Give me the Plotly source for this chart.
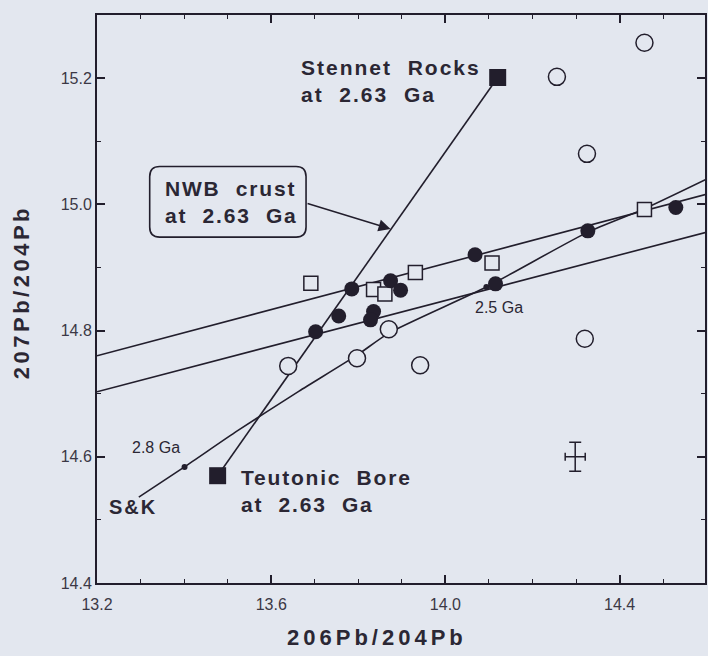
import plotly.graph_objects as go

# ---------------- data ----------------
filled_circle_x = [13.785, 13.874, 13.897, 13.755, 13.835, 13.828, 13.702, 14.068, 14.115, 14.327, 14.529]
filled_circle_y = [14.866, 14.879, 14.864, 14.823, 14.830, 14.817, 14.798, 14.920, 14.874, 14.958, 14.995]

open_circle_x = [14.256, 14.457, 14.325, 14.320, 13.942, 13.639, 13.797, 13.870]
open_circle_y = [15.202, 15.256, 15.080, 14.787, 14.745, 14.744, 14.756, 14.802]

open_square_x = [13.691, 13.835, 13.861, 13.931, 14.107, 14.457]
open_square_y = [14.875, 14.865, 14.858, 14.892, 14.907, 14.992]

endmember_names = ["Teutonic Bore", "Stennet Rocks"]
endmember_x = [13.477, 14.120]
endmember_y = [14.570, 15.201]

sk_x = [13.296, 13.401, 13.522, 13.664, 13.797, 13.870, 14.094, 14.327, 14.457, 14.597]
sk_y = [14.536, 14.584, 14.641, 14.704, 14.761, 14.796, 14.869, 14.956, 14.993, 15.039]

model_age_labels = ["2.8 Ga", "2.5 Ga"]
model_age_x = [13.401, 14.094]
model_age_y = [14.584, 14.869]

line_a_x = [13.2, 14.6]
line_a_y = [14.760, 15.016]
line_b_x = [13.2, 14.6]
line_b_y = [14.703, 14.956]

err_x = [14.298]
err_y = [14.600]
err_dx = [0.023]
err_dy = [0.023]

x_tick_vals = [13.2, 13.6, 14.0, 14.4]
x_tick_text = ["13.2", "13.6", "14.0", "14.4"]
y_tick_vals = [14.4, 14.6, 14.8, 15.0, 15.2]
y_tick_text = ["14.4", "14.6", "14.8", "15.0", "15.2"]

# ---------------- style ----------------
BG = "#e3e7ef"
INK = "#221e2c"
TXT = "#2b2734"
FONT = "Liberation Sans, Arial, Helvetica, sans-serif"
LW = 1.6


def spaced(s, ls=1.8):
    return '<span style="letter-spacing:%spx">%s</span>' % (ls, s)


fig = go.Figure()

# regression / reference lines
fig.add_trace(go.Scatter(x=line_a_x, y=line_a_y, mode="lines",
                         line=dict(color=INK, width=LW), hoverinfo="skip"))
fig.add_trace(go.Scatter(x=line_b_x, y=line_b_y, mode="lines",
                         line=dict(color=INK, width=LW), hoverinfo="skip"))
# S&K growth curve
fig.add_trace(go.Scatter(x=sk_x, y=sk_y, mode="lines",
                         line=dict(color=INK, width=LW, shape="spline", smoothing=0.6),
                         hoverinfo="skip"))
# mixing line between end-members
fig.add_trace(go.Scatter(x=endmember_x, y=endmember_y, mode="lines",
                         line=dict(color=INK, width=LW), hoverinfo="skip"))

# model-age dots
fig.add_trace(go.Scatter(x=model_age_x, y=model_age_y, mode="markers",
                         marker=dict(symbol="circle", size=6, color=INK)))

# open circles
fig.add_trace(go.Scatter(x=open_circle_x, y=open_circle_y, mode="markers",
                         marker=dict(symbol="circle", size=17, color=BG,
                                     line=dict(color=INK, width=1.5))))
# open squares
fig.add_trace(go.Scatter(x=open_square_x, y=open_square_y, mode="markers",
                         marker=dict(symbol="square", size=14, color=BG,
                                     line=dict(color=INK, width=1.5))))
# filled circles
fig.add_trace(go.Scatter(x=filled_circle_x, y=filled_circle_y, mode="markers",
                         marker=dict(symbol="circle", size=15, color=INK,
                                     line=dict(color=INK, width=0))))
# end-member filled squares
fig.add_trace(go.Scatter(x=endmember_x, y=endmember_y, mode="markers",
                         text=endmember_names,
                         marker=dict(symbol="square", size=17, color=INK,
                                     line=dict(color=INK, width=0))))

# typical error cross
fig.add_trace(go.Scatter(x=err_x, y=err_y, mode="markers",
                         marker=dict(size=1, color=INK),
                         error_x=dict(type="data", array=err_dx, color=INK, thickness=1.5, width=4),
                         error_y=dict(type="data", array=err_dy, color=INK, thickness=1.5, width=6)))

# rounded box for NWB crust
bx0, bx1, by0, by1 = 13.321, 13.680, 14.948, 15.060
rx, ry = 0.023, 0.016
box_path = (f"M {bx0+rx},{by1} L {bx1-rx},{by1} Q {bx1},{by1} {bx1},{by1-ry} "
            f"L {bx1},{by0+ry} Q {bx1},{by0} {bx1-rx},{by0} "
            f"L {bx0+rx},{by0} Q {bx0},{by0} {bx0},{by0+ry} "
            f"L {bx0},{by1-ry} Q {bx0},{by1} {bx0+rx},{by1} Z")
fig.add_shape(type="path", path=box_path, xref="x", yref="y",
              line=dict(color=INK, width=1.6), fillcolor="rgba(0,0,0,0)")

big = dict(family=FONT, size=21, color=TXT, weight="bold")
small = dict(family=FONT, size=16, color=TXT)
title_font = dict(family=FONT, size=22, color=TXT, weight="bold")

annotations = [
    dict(x=13.664, y=15.195, xref="x", yref="y", xanchor="left", yanchor="middle",
         text=spaced("Stennet\u00a0 Rocks", 2) + "<br>" + spaced("at\u00a0 2.63\u00a0 Ga", 2),
         align="left", font=big, showarrow=False),
    dict(x=13.525, y=14.545, xref="x", yref="y", xanchor="left", yanchor="middle",
         text=spaced("Teutonic\u00a0 Bore") + "<br>" + spaced("at\u00a0 2.63\u00a0 Ga"),
         align="left", font=big, showarrow=False),
    dict(x=13.351, y=15.004, xref="x", yref="y", xanchor="left", yanchor="middle",
         text=spaced("NWB\u00a0 crust") + "<br>" + spaced("at\u00a0 2.63\u00a0 Ga"),
         align="left", font=big, showarrow=False),
    dict(x=13.224, y=14.520, xref="x", yref="y", xanchor="left", yanchor="middle",
         text=spaced("S&amp;K", 2), font=dict(family=FONT, size=20, color=TXT, weight="bold"),
         showarrow=False),
    dict(x=13.395, y=14.6155, xref="x", yref="y",
         xanchor="right", yanchor="middle", text=model_age_labels[0], font=small, showarrow=False),
    dict(x=14.064, y=14.836, xref="x", yref="y",
         xanchor="left", yanchor="middle", text=model_age_labels[1], font=small, showarrow=False),
    # arrow from the box to the mixing line
    dict(x=13.874, y=14.961, ax=13.680, ay=15.002, xref="x", yref="y", axref="x", ayref="y",
         text="", showarrow=True, arrowhead=2, arrowsize=1.6, arrowwidth=1.5, arrowcolor=INK),
    # axis titles
    dict(x=378 / 708, y=1 - 637 / 656, xref="paper", yref="paper", xanchor="center", yanchor="middle",
         text=spaced("206Pb/204Pb", 4), font=title_font, showarrow=False),
    dict(x=22 / 708, y=1 - 292 / 656, xref="paper", yref="paper", xanchor="center", yanchor="middle",
         text=spaced("207Pb/204Pb", 3.5), font=title_font, showarrow=False, textangle=-90),
]

# convert paper coordinates for the axis-title annotations (paper spans the plot area)
L, R, T, B = 97, 1, 15, 73
pw, ph = 708 - L - R, 656 - T - B
for a in annotations[-2:]:
    px = a["x"] * 708
    py = (1 - a["y"]) * 656
    a["x"] = (px - L) / pw
    a["y"] = 1 - (py - T) / ph

axis_common = dict(
    showgrid=False, zeroline=False, showline=True, linecolor=INK, linewidth=2,
    mirror="ticks", ticks="inside", ticklen=8, tickwidth=1.5, tickcolor=INK,
    tickfont=dict(family=FONT, size=16, color="#3b3845"),
)

fig.update_layout(
    width=708, height=656, autosize=False,
    paper_bgcolor=BG, plot_bgcolor=BG,
    margin=dict(l=L, r=R, t=T, b=B),
    showlegend=False,
    annotations=annotations,
    xaxis=dict(axis_common, range=[13.2, 14.596], tickmode="array",
               tickvals=x_tick_vals, ticktext=x_tick_text, ticklabelstandoff=6,
               minor=dict(dtick=0.1, tick0=13.2, ticklen=4, ticks="inside", tickcolor=INK, tickwidth=1.2)),
    yaxis=dict(axis_common, range=[14.4, 15.3], tickmode="array",
               tickvals=y_tick_vals, ticktext=y_tick_text,
               minor=dict(dtick=0.1, tick0=14.4, ticklen=4, ticks="inside", tickcolor=INK, tickwidth=1.2)),
)

fig.write_html(
    "out.html",
    config={"displayModeBar": False},
    post_script="document.body.style.margin='0';document.body.style.overflow='hidden';"
                "document.body.style.background='" + BG + "';",
)
